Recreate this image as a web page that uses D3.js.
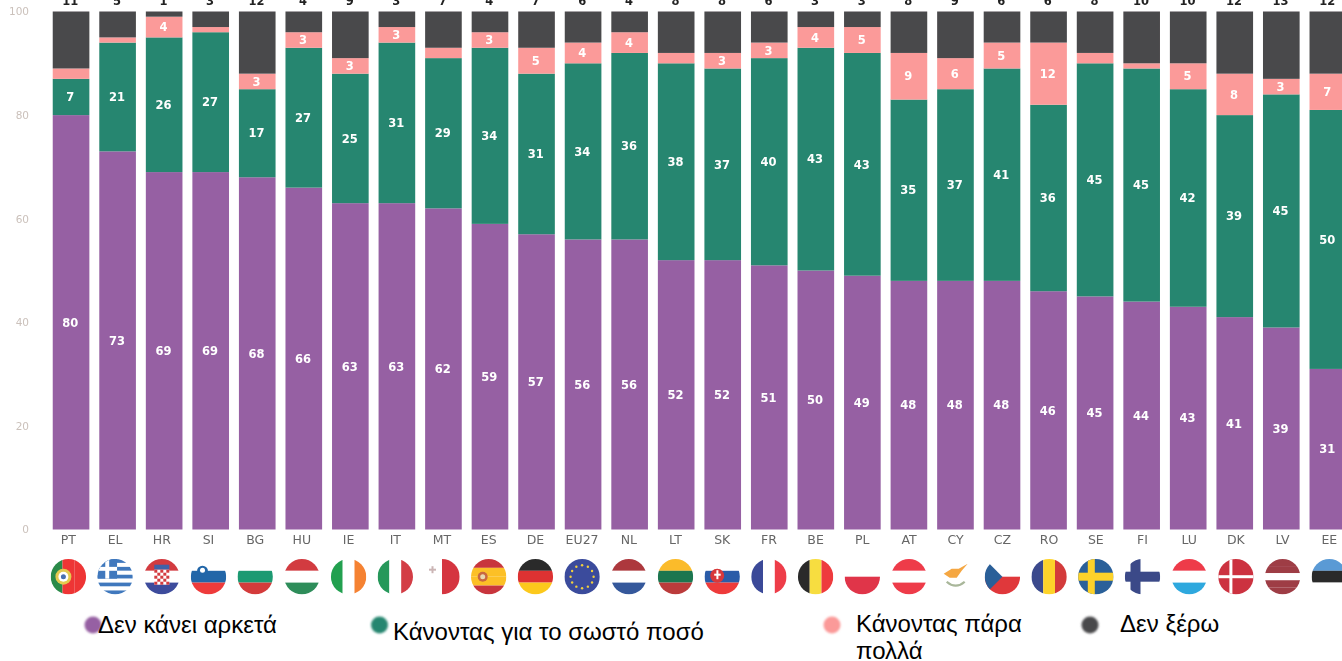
<!DOCTYPE html>
<html><head><meta charset="utf-8">
<script src="https://cdnjs.cloudflare.com/ajax/libs/d3/7.8.5/d3.min.js"></script>
<style>html,body{margin:0;padding:0;background:#fff;overflow:hidden}svg{display:block}</style>
</head><body><svg id="c" width="1342" height="661"></svg>
<script>
const categories=["PT","EL","HR","SI","BG","HU","IE","IT","MT","ES","DE","EU27","NL","LT","SK","FR","BE","PL","AT","CY","CZ","RO","SE","FI","LU","DK","LV","EE"];
const notEnough=[80,73,69,69,68,66,63,63,62,59,57,56,56,52,52,51,50,49,48,48,48,46,45,44,43,41,39,31];
const rightAmount=[7,21,26,27,17,27,25,31,29,34,31,34,36,38,37,40,43,43,35,37,41,36,45,45,42,39,45,50];
const tooMuch=[2,1,4,1,3,3,3,3,2,3,5,4,4,2,3,3,4,5,9,6,5,12,2,1,5,8,3,7];
const dontKnow=[11,5,1,3,12,4,9,3,7,4,7,6,4,8,8,6,3,3,8,9,6,6,8,10,10,12,13,12];
const seriesNames=["Δεν κάνει αρκετά","Κάνοντας για το σωστό ποσό","Κάνοντας πάρα πολλά","Δεν ξέρω"];
const colors=["#9661a3","#28866f","#fb9a99","#4a494b"];
const yTicks=[0,20,40,60,80,100];
const series=[notEnough,rightAmount,tooMuch,dontKnow];
// flag bands: direction (h/v) and colour list; "#fff" = empty white
const flags={PT:["v",["#2a8a4a","#ee3535","#ee3535"]],EL:["h",["#3f78bd","#fff","#3f78bd","#fff","#3f78bd","#fff","#3f78bd","#fff","#3f78bd"]],HR:["h",["#d33a3f","#fff","#3c4c9c"]],SI:["h",["#fff","#2266a8","#ee3a3a"]],BG:["h",["#fff","#1f9a72","#d43a3a"]],HU:["h",["#d23a40","#fff","#2e8d5a"]],IE:["v",["#22a050","#fff","#f58233"]],IT:["v",["#26985a","#fff","#d33c45"]],MT:["v",["#fff","#d5363f"]],ES:["h",["#c8363c","#fcc026","#fcc026","#c8363c"]],DE:["h",["#2b2b2b","#dd3333","#fcc91f"]],EU27:["h",["#3a4c9c"]],NL:["h",["#ad373d","#fff","#34589b"]],LT:["h",["#fbbb2a","#1f7650","#bb3a3a"]],SK:["h",["#fff","#2a5ba8","#ee3a3a"]],FR:["v",["#3a4a98","#fff","#ee3c4a"]],BE:["v",["#2b2b2b","#f7dd3f","#ee3a3e"]],PL:["h",["#fff","#e0364a"]],AT:["h",["#ee3a4a","#fff","#ee3a4a"]],CY:["h",["#fff"]],CZ:["h",["#fff","#e0383a"]],RO:["v",["#3a4a8c","#fdd32c","#d33a3a"]],SE:["h",["#2a6099"]],FI:["h",["#fff"]],LU:["h",["#ee3a4a","#fff","#2ea8de"]],DK:["h",["#cc3340"]],LV:["h",["#9e3c45","#9e3c45","#fff","#9e3c45","#9e3c45"]],EE:["h",["#5a9ad5","#2b2b2b","#fff"]]};

const svg=d3.select("#c");
const defs=svg.append("defs");
const soft=(id,s)=>defs.append("filter").attr("id",id).attr("x",-0.1).attr("y",-0.1).attr("width",1.2).attr("height",1.2).append("feGaussianBlur").attr("stdDeviation",s);
soft("soft",0.65);soft("softer",1);
const x=d3.scaleBand().domain(categories).range([47.8,1351.1]).paddingInner(0.213).paddingOuter(0.106);
const labelX=d3.scalePoint().domain(categories).range([68.4,1329.3]);
const y=d3.scaleLinear().domain([0,100]).range([529.5,11.5]);
const chart=svg.append("g").attr("filter","url(#soft)").attr("font-family","'DejaVu Sans',sans-serif");

const axis=d3.axisLeft(y).tickValues(yTicks).tickSize(0).tickPadding(0);
const ga=chart.append("g").attr("transform","translate(29,0)").call(axis);
ga.select(".domain").remove();
ga.selectAll("text").attr("fill","#cbc1bb").attr("font-size",10.5).attr("font-family","'DejaVu Sans',sans-serif");

const stacked=d3.stack().keys([0,1,2,3]).value((d,k)=>series[k][d])(d3.range(categories.length));
stacked.forEach((layer,k)=>{
  chart.append("g").selectAll("rect").data(layer).join("rect")
    .attr("x",(d,i)=>x(categories[i])).attr("width",x.bandwidth())
    .attr("y",d=>y(d[1])).attr("height",d=>y(d[0])-y(d[1])).attr("fill",colors[k]);
  if(k<3) chart.append("g").selectAll("text").data(layer.filter(d=>d[1]-d[0]>=3)).join("text")
    .attr("x",d=>x(categories[d.data])+x.bandwidth()/2-0.7).attr("y",d=>y((d[0]+d[1])/2)+4.2)
    .attr("text-anchor","middle").attr("fill","#fff").attr("font-weight",700).attr("font-size",11.5)
    .text(d=>d[1]-d[0]);
});
// top values, cut by the picture's upper edge as in the reference
chart.append("g").selectAll("text").data(categories).join("text")
  .attr("x",c=>x(c)+x.bandwidth()/2-0.7).attr("y",5).attr("text-anchor","middle")
  .attr("fill","#222").attr("font-weight",700).attr("font-size",11.5)
  .text((c,i)=>dontKnow[i]);
// category labels
chart.append("g").selectAll("text").data(categories).join("text")
  .attr("x",c=>labelX(c)).attr("y",544).attr("text-anchor","middle")
  .attr("fill","#666").attr("font-size",12.5).text(c=>c);

// flags
const R=17.7, flagY=576.7;
const fg=chart.append("g");
categories.forEach((c,i)=>{
  const cx=labelX(c);
  const id="fc"+i;
  defs.append("clipPath").attr("id",id).append("circle").attr("cx",cx).attr("cy",flagY).attr("r",R);
  const g=fg.append("g").attr("clip-path",`url(#${id})`);
  const [dir,bands]=flags[c];
  const s=d3.scaleBand().domain(d3.range(bands.length)).range(dir==="h"?[flagY-R,flagY+R]:[cx-R,cx+R]);
  g.selectAll("rect").data(bands).join("rect")
    .attr("x",(d,j)=>dir==="h"?cx-R:s(j)).attr("y",(d,j)=>dir==="h"?s(j):flagY-R)
    .attr("width",dir==="h"?2*R:s.bandwidth()).attr("height",dir==="h"?s.bandwidth():2*R).attr("fill",d=>d);
  const rr=(a,b,w,h,f)=>g.append("rect").attr("x",cx+a).attr("y",flagY+b).attr("width",w).attr("height",h).attr("fill",f);
  const dot=(a,b,r,f)=>g.append("circle").attr("cx",cx+a).attr("cy",flagY+b).attr("r",r).attr("fill",f);
  if(c==="EL"){const u=2*R/9;rr(-R,-R,5*u,5*u,"#3f78bd");rr(-R,-R+2*u,5*u,u,"#fff");rr(-R+2*u,-R,u,5*u,"#fff");}
  if(c==="FI"){rr(-R,-5,2*R,10,"#3a4a88");rr(-12,-R,10,2*R,"#3a4a88");}
  if(c==="SE"){rr(-R,-4,2*R,8,"#fcd22c");rr(-8,-R,7,2*R,"#fcd22c");}
  if(c==="DK"){rr(-R,-1.5,2*R,3,"#fff");rr(-6.5,-R,3,2*R,"#fff");}
  if(c==="ES"){dot(-6,0,5,"#c9673f");dot(-6,0,2.5,"#e8d8b0");}
  if(c==="PT"){dot(-5,0,8,"#e3c94f");dot(-5,0,5,"#fff");dot(-5,0,2.5,"#4a6fb0");}
  if(c==="HR"){rr(-7.5,-12,15,5,"#3f62a8");rr(-7.5,-7,15,15,"#fff");
    d3.range(25).filter(n=>n%2===0).forEach(n=>rr(-7.5+3*(n%5),-7+3*Math.floor(n/5),3,3,"#d33a3f"));}
  if(c==="SI"){dot(-6,-5.5,5.5,"#2266a8");dot(-6,-6.5,2.5,"#fff");}
  if(c==="SK"){dot(-5,-1,7,"#d8383a");rr(-8,-7,6.5,8,"#d8383a");rr(-5.8,-6.5,2,9,"#fff");rr(-8,-3,6.5,2,"#fff");}
  if(c==="CZ"){g.append("path").attr("d",`M${cx-R} ${flagY-R}L${cx} ${flagY}L${cx-R} ${flagY+R}Z`).attr("fill","#2c5f98");}
  if(c==="MT"){rr(-13,-8,7,2,"#cbb5b5");rr(-10.5,-10.5,2,7,"#cbb5b5");}
  if(c==="CY"){g.append("path").attr("d",`M${cx-12} ${flagY-3}L${cx-4} ${flagY-8}L${cx+3} ${flagY-8}L${cx+12} ${flagY-13}L${cx+6} ${flagY-6}L${cx+1} ${flagY+1}L${cx-6} ${flagY+1}Z`).attr("fill","#f5a742");
    g.append("path").attr("d",`M${cx-9} ${flagY+5}Q${cx} ${flagY+13} ${cx+9} ${flagY+5}`).attr("fill","none").attr("stroke","#a9b79a").attr("stroke-width",2.2);}
  if(c==="EU27"){g.selectAll("circle.s").data(d3.range(12)).join("circle").attr("class","s")
    .attr("cx",j=>cx+11.5*Math.cos(j*Math.PI/6)).attr("cy",j=>flagY+11.5*Math.sin(j*Math.PI/6)).attr("r",1.2).attr("fill","#f2cf3e");}
});

// legend
const lx=[93,379.5,832,1090], ly=[625,625,625,625];
const tx=[98,393,856,1120], ty=[633,640,632,632];
const lg=svg.append("g").attr("font-family","'Liberation Sans',Arial,sans-serif").attr("font-size",24).attr("fill","#000");
seriesNames.forEach((n,i)=>{
  lg.append("circle").attr("cx",lx[i]).attr("cy",ly[i]).attr("r",8.5).attr("fill",colors[i]).attr("filter","url(#softer)");
});
seriesNames.forEach((n,i)=>{
  if(i===2){
    const t=lg.append("text").attr("x",tx[i]).attr("y",ty[i]);
    t.append("tspan").text("Κάνοντας πάρα");
    t.append("tspan").attr("x",tx[i]).attr("dy",27).text("πολλά");
  } else lg.append("text").attr("x",tx[i]).attr("y",ty[i]).text(n);
});
</script></body></html>
